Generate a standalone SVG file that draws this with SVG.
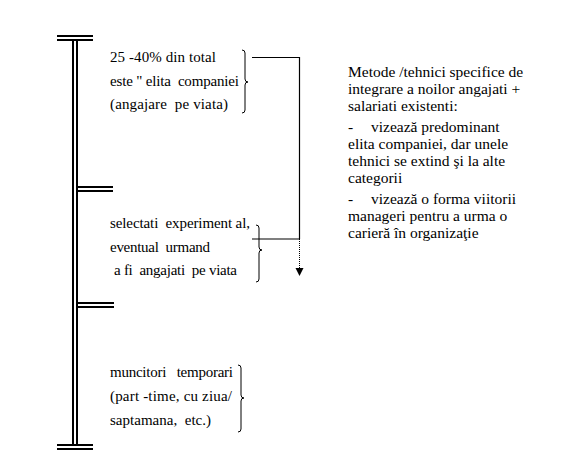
<svg xmlns="http://www.w3.org/2000/svg" width="580" height="474" viewBox="0 0 580 474">
<rect width="580" height="474" fill="#fff"/>
<g id="axis" stroke="#000" stroke-width="2" fill="none">
<line x1="57" y1="36" x2="93" y2="36"/>
<line x1="57" y1="40" x2="93" y2="40"/>
<line x1="73" y1="40" x2="73" y2="445"/>
<line x1="77" y1="40" x2="77" y2="445"/>
<line x1="77" y1="187" x2="113" y2="187"/>
<line x1="77" y1="191" x2="113" y2="191"/>
<line x1="77" y1="303" x2="114" y2="303"/>
<line x1="77" y1="307" x2="114" y2="307"/>
<line x1="57" y1="445" x2="93" y2="445"/>
<line x1="57" y1="449" x2="93" y2="449"/>
</g>
<g id="node-elite">
<text font-family="Times New Roman" font-size="15" xml:space="preserve" x="110" y="62" textLength="106" lengthAdjust="spacing">25 -40% din total</text>
<text font-family="Times New Roman" font-size="15" xml:space="preserve" x="110" y="86" textLength="129" lengthAdjust="spacing">este " elita  companiei</text>
<text font-family="Times New Roman" font-size="15" xml:space="preserve" x="110" y="109" textLength="118" lengthAdjust="spacing">(angajare  pe viata)</text>
<path stroke="#000" stroke-width="1" fill="none" d="M242,50 Q245,50 245,53 L245,79 Q245,82 248,82 Q245,82 245,85 L245,110 Q245,113 242,113"/>
</g>
<g id="node-selected">
<text font-family="Times New Roman" font-size="15" xml:space="preserve" x="110" y="228" textLength="140" lengthAdjust="spacing">selectati  experiment al,</text>
<text font-family="Times New Roman" font-size="15" xml:space="preserve" x="110" y="252" textLength="100" lengthAdjust="spacing">eventual  urmand</text>
<text font-family="Times New Roman" font-size="15" xml:space="preserve" x="114" y="275" textLength="123" lengthAdjust="spacing">a fi  angajati  pe viata</text>
<path stroke="#000" stroke-width="1" fill="none" d="M256,225 Q259,225 259,228 L259,247 Q259,250 262,250 Q259,250 259,253 L259,279 Q259,282 256,282"/>
</g>
<g id="node-temporary">
<text font-family="Times New Roman" font-size="15" xml:space="preserve" x="110" y="377" textLength="123" lengthAdjust="spacing">muncitori   temporari</text>
<text font-family="Times New Roman" font-size="15" xml:space="preserve" x="110" y="401" textLength="122" lengthAdjust="spacing">(part -time, cu ziua/</text>
<text font-family="Times New Roman" font-size="15" xml:space="preserve" x="110" y="425" textLength="101" lengthAdjust="spacing">saptamana,  etc.)</text>
<path stroke="#000" stroke-width="1" fill="none" d="M238,365 Q241,365 241,368 L241,395 Q241,398 244,398 Q241,398 241,401 L241,429 Q241,432 238,432"/>
</g>
<g id="node-methods">
<text font-family="Times New Roman" font-size="15.5" x="348" y="77">Metode /tehnici specifice de</text>
<text font-family="Times New Roman" font-size="15.5" x="348" y="94">integrare a noilor angajati +</text>
<text font-family="Times New Roman" font-size="15.5" x="348" y="111">salariati existenti:</text>
<text font-family="Times New Roman" font-size="15.5" x="348" y="132">-</text>
<text font-family="Times New Roman" font-size="15.5" x="371" y="132">vizeaz&#259; predominant</text>
<text font-family="Times New Roman" font-size="15.5" x="348" y="149">elita companiei, dar unele</text>
<text font-family="Times New Roman" font-size="15.5" x="348" y="166">tehnici se extind &#351;i la alte</text>
<text font-family="Times New Roman" font-size="15.5" x="348" y="183">categorii</text>
<text font-family="Times New Roman" font-size="15.5" x="348" y="204">-</text>
<text font-family="Times New Roman" font-size="15.5" x="371" y="204">vizeaz&#259; o forma viitorii</text>
<text font-family="Times New Roman" font-size="15.5" x="348" y="221">manageri pentru a urma o</text>
<text font-family="Times New Roman" font-size="15.5" x="348" y="238">carier&#259; &#238;n organiza&#355;ie</text>
</g>
<g id="connectors">
<polyline stroke="#000" stroke-width="1.2" fill="none" points="252,57.5 299.5,57.5 299.5,239"/>
<line stroke="#000" stroke-width="1.2" x1="252" y1="239" x2="299.5" y2="239"/>
<line stroke="#000" stroke-width="1" stroke-dasharray="1,1" x1="299.5" y1="239" x2="299.5" y2="269"/>
<polygon fill="#000" points="295.5,268 303.5,268 299.5,276"/>
</g>
</svg>
